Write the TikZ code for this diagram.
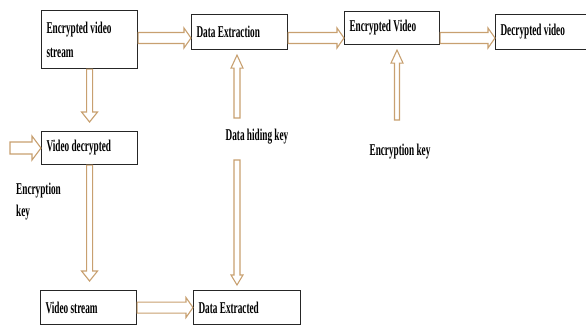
\documentclass[tikz,border=0pt]{standalone}
\usepackage{fontspec}
\usetikzlibrary{calc}
\newfontfamily\df{Liberation Serif}[FakeStretch=0.56]
\definecolor{arrc}{HTML}{C8A070}
\definecolor{boxc}{HTML}{262626}
\tikzset{
  box/.style={draw=boxc, line width=1.1pt, fill=white, anchor=north west,
    inner xsep=5pt, inner ysep=0pt, align=flush left,
    font=\df\bfseries\fontsize{16.5}{24}\selectfont},
  lbl/.style={inner sep=0pt, align=flush left,
    font=\df\bfseries\fontsize{16.5}{22}\selectfont},
  fatarr/.style={draw=arrc, line width=1.1pt, fill=white, line join=miter}
}
% #1 shaft half width, #2 head half width, #3 head length, #4 from, #5 to
\newcommand\fatarrow[5]{%
  \path (#4) coordinate (fa-s) (#5) coordinate (fa-e);
  \path ($(fa-e)!#3!(fa-s)$) coordinate (fa-b);
  \draw[fatarr] ($(fa-s)!#1!90:(fa-e)$) -- ($(fa-b)!#1!-90:(fa-s)$)
    -- ($(fa-b)!#2!-90:(fa-s)$) -- (fa-e) -- ($(fa-b)!#2!90:(fa-s)$)
    -- ($(fa-b)!#1!90:(fa-s)$) -- ($(fa-s)!#1!-90:(fa-e)$) -- cycle;}
\begin{document}
\begin{tikzpicture}[x=1pt,y=-1pt]
\useasboundingbox (0,0) rectangle (586,324);
\clip (0,0) rectangle (586,324);
% boxes
\node[box, minimum width=96pt, minimum height=58pt, text width=86pt] (evs) at (41,10) {Encrypted video\\stream};
\node[box, minimum width=96pt, minimum height=35pt, text width=86pt] (dext) at (191,14) {Data Extraction};
\node[box, minimum width=95pt, minimum height=33pt, text width=85pt] (encv) at (344,11) {Encrypted Video};
\node[box, minimum width=96pt, minimum height=35pt, text width=86pt] (decv) at (495,14) {Decrypted video};
\node[box, minimum width=96pt, minimum height=33pt, text width=86pt] (vdec) at (41,131) {Video decrypted};
\node[box, minimum width=96pt, minimum height=34pt, text width=86pt] (vs) at (40,290) {Video stream};
\node[box, minimum width=107pt, minimum height=34pt, text width=97pt] (dexd) at (193,290) {Data Extracted};
% labels
\node[lbl] (dhk) at (257,137) {Data hiding key};
\node[lbl] (ekr) at (400,152) {Encryption key};
\node[lbl, anchor=north west] (ekl) at (16,183) {Encryption\\key};
% free ends
\coordinate (r1) at (0,38);
\coordinate (eka) at (10,148);
\coordinate (dh1) at (237,118);
\coordinate (dh2) at (237,160);
\coordinate (ek1) at (397,120);
% arrows
\fatarrow{5.5pt}{10pt}{7pt}{evs.east |- r1}{dext.west |- r1}
\fatarrow{5.5pt}{10pt}{7pt}{dext.east |- r1}{encv.west |- r1}
\fatarrow{5.5pt}{10pt}{7pt}{encv.east |- r1}{decv.west |- r1}
\fatarrow{5.5pt}{10pt}{7pt}{vs.east}{vs.east -| dexd.west}
\fatarrow{6pt}{12pt}{9pt}{eka}{eka -| vdec.west}
\fatarrow{3pt}{8pt}{10pt}{evs.south}{$(evs.south |- vdec.north)+(0,-9)$}
\fatarrow{3pt}{8pt}{10pt}{vdec.south}{$(vdec.south |- vs.north)+(0,-9)$}
\fatarrow{3pt}{6pt}{13pt}{dh1}{$(dh1 |- dext.south)+(0,5)$}
\fatarrow{3pt}{6pt}{10pt}{dh2}{$(dh2 |- dexd.north)+(0,-5)$}
\fatarrow{2.5pt}{6pt}{13pt}{ek1}{$(ek1 |- encv.south)+(0,5)$}
\end{tikzpicture}
\end{document}
